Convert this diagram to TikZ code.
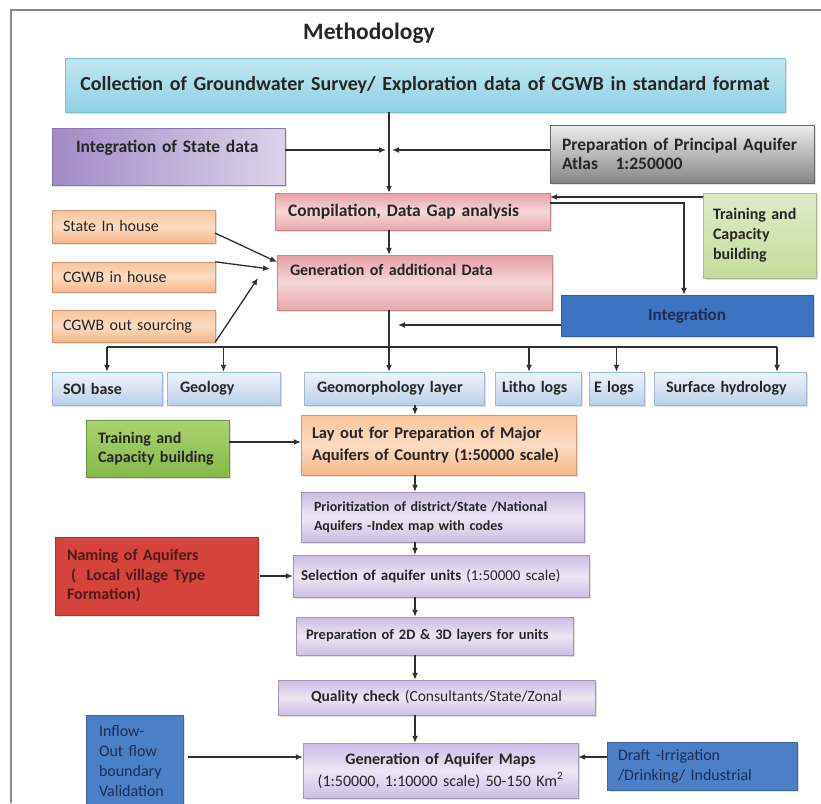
\documentclass[tikz,border=0pt]{standalone}
\usepackage{fontspec}
\setmainfont{Carlito}
\usetikzlibrary{arrows.meta,shadows}
\definecolor{txt}{HTML}{262626}
\definecolor{navy}{HTML}{1C2D52}
\definecolor{lineC}{HTML}{303030}
\definecolor{framec}{HTML}{8A8A8A}
\definecolor{cyanT}{HTML}{C2E7F1}
\definecolor{cyanB}{HTML}{8FD1E4}
\definecolor{cyanD}{HTML}{7CC2D6}
\definecolor{stateL}{HTML}{A28BC6}
\definecolor{stateR}{HTML}{DCD3EA}
\definecolor{grayT}{HTML}{EDEDED}
\definecolor{grayB}{HTML}{858585}
\definecolor{pinkT}{HTML}{E6A0A5}
\definecolor{pinkM}{HTML}{F6D7D8}
\definecolor{pinkB}{HTML}{E8A7AB}
\definecolor{lgreenT}{HTML}{DEECC9}
\definecolor{lgreenB}{HTML}{C4DC9C}
\definecolor{orT}{HTML}{F8C49B}
\definecolor{orM}{HTML}{FCDCC3}
\definecolor{orB}{HTML}{F5B688}
\definecolor{blueI}{HTML}{3D74C2}
\definecolor{rowT}{HTML}{EEF3FA}
\definecolor{rowB}{HTML}{BDD0EA}
\definecolor{rowD}{HTML}{9FB8DA}
\definecolor{greenT}{HTML}{ACD273}
\definecolor{greenB}{HTML}{84BA48}
\definecolor{lavT}{HTML}{CBBDE2}
\definecolor{lavM}{HTML}{ECE6F5}
\definecolor{lavB}{HTML}{CDBFE3}
\definecolor{redN}{HTML}{D4443D}
\definecolor{redT}{HTML}{4D1A17}
\definecolor{blueB}{HTML}{4B80C7}
\begin{document}
\begin{tikzpicture}[x=1pt,y=-1pt,
  bx/.style={rectangle, inner ysep=2pt, text=txt, align=left,
    drop shadow={shadow xshift=1.5pt, shadow yshift=-2pt, opacity=0.25},
    font=\bfseries\fontsize{16}{19.5}\selectfont},
  cyanbox/.style={top color=cyanT, bottom color=cyanB, draw=cyanD},
  statebox/.style={left color=stateL, right color=stateR, draw=stateL!85!black},
  graybox/.style={top color=grayT, bottom color=grayB, draw=grayB!80!black},
  pinkbox/.style={top color=pinkT, bottom color=pinkB, middle color=pinkM, draw=pinkT!85!black},
  lgreenbox/.style={top color=lgreenT, bottom color=lgreenB, draw=lgreenB!85!black},
  orbox/.style={top color=orT, bottom color=orB, middle color=orM, draw=orB!85!black},
  rowbox/.style={top color=rowT, bottom color=rowB, draw=rowD},
  greenbox/.style={top color=greenT, bottom color=greenB, draw=greenB!80!black},
  lavbox/.style={top color=lavT, bottom color=lavB, middle color=lavM, draw=lavT!80!black},
  redbox/.style={fill=redN, draw=redN!80!black, text=redT},
  bluebox/.style={fill=blueB, draw=blueB!80!black, text=navy},
  ln/.style={draw=lineC, line width=1.3pt},
  arr/.style={ln, -{Latex[length=7pt,width=6pt]}},
  reg/.style={font=\mdseries\fontsize{16}{19.5}\selectfont}
]
\useasboundingbox (0,0) rectangle (821,803);
\draw[framec, line width=1.2pt] (11,803) -- (11,10) -- (821,10);

\node[font=\bfseries\fontsize{23.5}{27}\selectfont, text=txt] (title) at (369,33) {Methodology};

\node[bx, cyanbox, font=\bfseries\fontsize{20}{23}\selectfont, text width=700pt, inner xsep=10pt, align=center, minimum height=54pt] (A) at (425,85) {Collection of Groundwater Survey/ Exploration data of CGWB in standard format};

\node[bx, statebox, font=\bfseries\fontsize{17.5}{21}\selectfont, text width=185pt, inner xsep=24pt, minimum height=57pt, text depth=20pt] (state) at (168.5,156.5) {Integration of State data};

\node[bx, graybox, font=\bfseries\fontsize{17.5}{18.5}\selectfont, text width=240pt, inner xsep=12pt, minimum height=58pt] (ppaa) at (682,154) {Preparation of Principal Aquifer\\Atlas\ \ \ 1:250000};

\node[bx, pinkbox, font=\bfseries\fontsize{17.5}{21}\selectfont, text width=249pt, inner xsep=13pt, minimum height=37pt] (comp) at (412.5,211.5) {Compilation, Data Gap analysis};

\node[bx, lgreenbox, text width=93pt, inner xsep=10pt, minimum height=85pt, font=\bfseries\fontsize{16}{20}\selectfont] (tr1) at (759.5,235.5) {Training and\\Capacity\\building};

\node[bx, orbox, reg, text width=141pt, inner xsep=11pt, minimum height=33pt] (sih) at (133.5,226.5) {State In house};
\node[bx, orbox, reg, text width=141pt, inner xsep=11pt, minimum height=30pt] (cih) at (133.5,277) {CGWB in house};
\node[bx, orbox, reg, text width=141pt, inner xsep=11pt, minimum height=32pt] (cout) at (133.5,326) {CGWB out sourcing};

\node[bx, pinkbox, text width=249pt, inner xsep=13pt, minimum height=55pt, text depth=25pt] (gen) at (414.5,282.5) {Generation of additional Data};

\node[bx, fill=blueI, draw=blueI!80!black, text=navy, font=\bfseries\fontsize{17}{20}\selectfont, minimum width=252pt, minimum height=41pt, align=center] (integ) at (687,315.5) {Integration};

\node[bx, rowbox, text width=88pt, inner xsep=11pt, minimum height=33pt] (soi) at (107,388.5) {SOI base};
\node[bx, rowbox, text width=87pt, inner xsep=13pt, minimum height=33pt] (geol) at (223.5,388.5) {Geology};
\node[bx, rowbox, text width=154pt, inner xsep=13pt, minimum height=33pt] (geom) at (394,388.5) {Geomorphology layer};
\node[bx, rowbox, text width=72pt, inner xsep=7pt, minimum height=33pt] (litho) at (538,388.5) {Litho logs};
\node[bx, rowbox, text width=45pt, inner xsep=5pt, minimum height=33pt] (elog) at (616.5,388.5) {E logs};
\node[bx, rowbox, text width=128pt, inner xsep=12pt, minimum height=33pt] (surf) at (730,388.5) {Surface hydrology};

\node[bx, greenbox, text width=119pt, inner xsep=12pt, minimum height=57pt] (tr2) at (157.5,448.5) {Training and\\Capacity building};

\node[bx, orbox, font=\bfseries\fontsize{16.5}{22}\selectfont, text width=253pt, inner xsep=11pt, minimum height=60pt] (lay) at (438.5,445) {Lay out for Preparation of Major\\Aquifers of Country (1:50000 scale)};

\node[bx, lavbox, font=\bfseries\fontsize{14}{19}\selectfont, text width=257pt, inner xsep=13pt, minimum height=50pt] (prio) at (442.5,517) {Prioritization of district/State /National\\Aquifers -Index map with codes};

\node[bx, redbox, text width=179pt, inner xsep=12pt, minimum height=78pt] (nam) at (156.5,576) {Naming of Aquifers\\\hspace*{4pt}(~~Local village Type\\Formation)};

\node[bx, lavbox, font=\bfseries\fontsize{15}{19}\selectfont, text width=280pt, inner xsep=8pt, minimum height=42pt] (sel) at (441,576) {Selection of aquifer units {\mdseries (1:50000 scale)}};

\node[bx, lavbox, font=\bfseries\fontsize{14.5}{19}\selectfont, text width=257pt, inner xsep=10pt, minimum height=38pt] (prep) at (434.5,636) {Preparation of 2D \& 3D layers for units};

\node[bx, lavbox, font=\bfseries\fontsize{15.5}{19}\selectfont, text width=297pt, inner xsep=10pt, align=center, minimum height=35pt] (qual) at (436.5,697.5) {Quality check {\mdseries (Consultants/State/Zonal}};

\node[bx, lavbox, font=\bfseries\fontsize{16}{22}\selectfont, text width=259pt, inner xsep=8pt, align=center, minimum height=55pt] (maps) at (440.5,770.5) {Generation of Aquifer Maps\\{\mdseries (1:50000, 1:10000 scale) 50-150 Km\textsuperscript{2}}};

\node[bx, bluebox, reg, font=\mdseries\fontsize{16}{20}\selectfont, text width=71pt, inner xsep=13pt, minimum height=93pt] (inflow) at (134.5,761.5) {Inflow-\\Out flow\\boundary\\Validation};

\node[bx, bluebox, font=\mdseries\fontsize{16}{20}\selectfont, text width=168pt, inner xsep=11pt, minimum height=48pt] (draft) at (702,766) {Draft -Irrigation\\/Drinking/ Industrial};

% coordinates
\coordinate (spine) at (389,0);
\coordinate (y150) at (0,150);
\coordinate (y197) at (0,197);
\coordinate (y203) at (0,203);
\coordinate (x684) at (684,0);
\coordinate (s1) at (215,233);
\coordinate (e1) at (277,262);
\coordinate (e2) at (270,269);
\coordinate (e3) at (258,278);
\coordinate (y325) at (0,325);
\coordinate (e4) at (398,325);
\coordinate (y347) at (0,347);
\coordinate (x529) at (529,0);
\coordinate (x777) at (777,0);
\coordinate (x415) at (415,0);
\coordinate (y442) at (0,442);
\coordinate (y757) at (0,757);

% connectors
\draw[arr] (A.south -| spine) -- (comp.north -| spine);
\draw[arr] (state.east |- y150) -- ([xshift=-3pt]spine |- y150);
\draw[arr] (ppaa.west |- y150) -- ([xshift=3pt]spine |- y150);
\draw[arr] (tr1.west |- y197) -- (comp.east |- y197);
\draw[arr] (comp.east |- y203) -| (integ.north -| x684);
\draw[arr] (comp.south -| spine) -- (gen.north -| spine);
\draw[arr] (s1) -- (e1);
\draw[arr] (cih.north east) -- (e2);
\draw[arr] (cout.south east) -- (e3);
\draw[arr] (gen.south -| spine) -- (geom.north -| spine);
\draw[arr] (integ.west |- y325) -- (e4);
\draw[ln] (soi.north |- y347) -- (x777 |- y347);
\draw[arr] (soi.north |- y347) -- (soi.north);
\draw[arr] (geol.north |- y347) -- (geol.north);
\draw[arr] (x529 |- y347) -- (litho.north -| x529);
\draw[arr] (elog.north |- y347) -- (elog.north);
\draw[arr] (x777 |- y347) -- (surf.north -| x777);
\draw[arr] (geom.south -| x415) -- (lay.north -| x415);
\draw[arr] (tr2.east |- y442) -- (lay.west |- y442);
\draw[arr] (lay.south -| x415) -- (prio.north -| x415);
\draw[arr] (prio.south -| x415) -- (sel.north -| x415);
\draw[arr, shorten <=2pt] (nam.east) -- (sel.west);
\draw[arr] (sel.south -| x415) -- (prep.north -| x415);
\draw[arr] (prep.south -| x415) -- (qual.north -| x415);
\draw[arr] (qual.south -| x415) -- (maps.north -| x415);
\draw[arr, shorten <=5pt] (inflow.east |- y757) -- (maps.west |- y757);
\draw[arr] (draft.west |- y757) -- (maps.east |- y757);
\end{tikzpicture}
\end{document}
